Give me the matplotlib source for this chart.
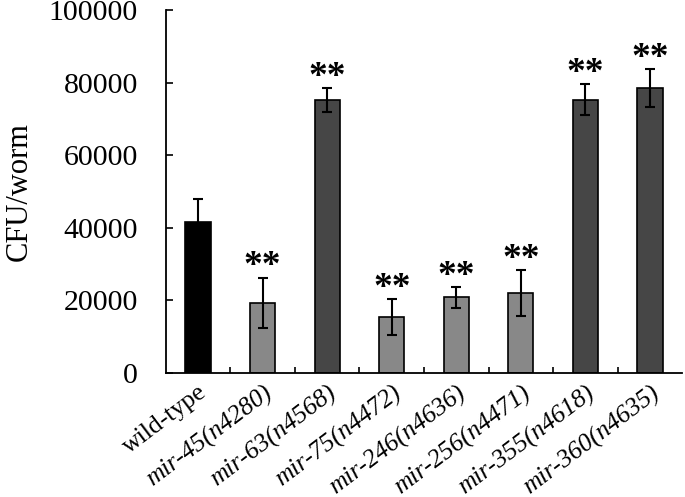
import numpy as np
import matplotlib

matplotlib.use("Agg")
import matplotlib.pyplot as plt
import matplotlib.transforms as mtransforms

# data
strains = ["wild-type", "mir-45(n4280)", "mir-63(n4568)", "mir-75(n4472)",
           "mir-246(n4636)", "mir-256(n4471)", "mir-355(n4618)", "mir-360(n4635)"]
cfu = [41500, 19300, 75300, 15400, 20800, 22000, 75300, 78400]
cfu_err = [6500, 7000, 3300, 5000, 2800, 6300, 4200, 5200]
stars = ["", "**", "**", "**", "**", "**", "**", "**"]
bar_colors = ["#000000", "#888888", "#464646", "#888888",
              "#888888", "#888888", "#464646", "#464646"]
y_ticks = [0, 20000, 40000, 60000, 80000, 100000]

plt.rcParams['font.family'] = ['Liberation Serif', 'DejaVu Serif']

fig = plt.figure(figsize=(6.85, 4.97), dpi=100)
ax = fig.add_axes([0.242, 0.2495, 0.754, 0.7305])

x = np.arange(len(strains))
ax.bar(x, cfu, width=0.39, color=bar_colors, edgecolor="black", linewidth=1.2, zorder=2)
ax.errorbar(x, cfu, yerr=cfu_err, fmt="none", ecolor="black", elinewidth=1.5,
            capsize=3.5, capthick=1.5, zorder=3)

# significance marks
for xi, v, e, s in zip(x, cfu, cfu_err, stars):
    if s:
        ax.annotate(s, (xi, v + e), xytext=(0, -5), textcoords="offset points",
                    ha="center", va="bottom", fontsize=27, fontweight="bold")

ax.set_xlim(-0.5, len(strains) - 0.5)
ax.set_ylim(0, 100000)
ax.set_yticks(y_ticks)
ax.set_yticklabels([str(t) for t in y_ticks], fontsize=21.5)
ax.set_ylabel("CFU/worm", fontsize=22, labelpad=11)

# category labels, tick marks between the bars
ax.set_xticks(x)
ax.set_xticklabels(strains, rotation=37, ha="right", rotation_mode="anchor", fontsize=18.5)
shift = mtransforms.ScaledTranslation(-8 / 72, 0, fig.dpi_scale_trans)
for i, lbl in enumerate(ax.get_xticklabels()):
    lbl.set_transform(lbl.get_transform() + shift)
    if i > 0:
        lbl.set_style("italic")
ax.tick_params(axis="x", which="major", length=0, pad=6)
ax.set_xticks(x[:-1] + 0.5, minor=True)
ax.tick_params(axis="x", which="minor", direction="in", length=4, width=1.2)
ax.tick_params(axis="y", direction="in", length=5, width=1.2, pad=20)

ax.spines["top"].set_visible(False)
ax.spines["right"].set_visible(False)
ax.spines["left"].set_linewidth(1.3)
ax.spines["bottom"].set_linewidth(1.3)

fig.savefig("out.png", dpi=100)
